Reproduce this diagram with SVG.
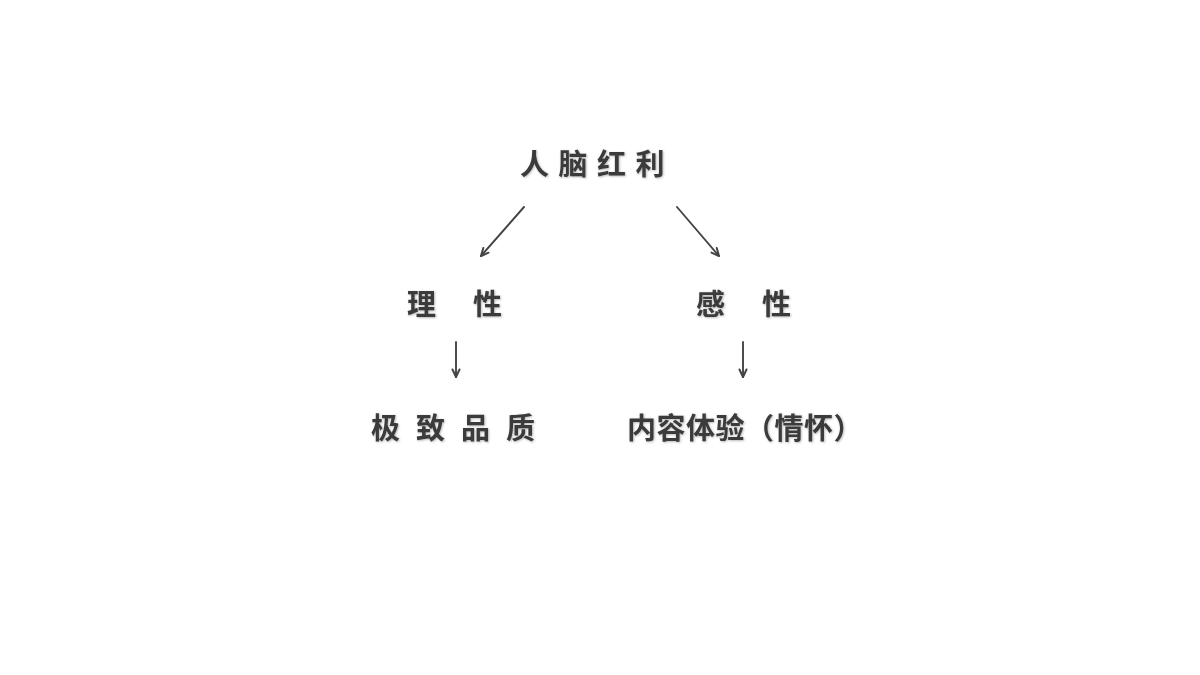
<svg xmlns="http://www.w3.org/2000/svg" width="1200" height="675" viewBox="0 0 1200 675">
  <defs>
    <style>
      .t { font-family: "Noto Sans CJK SC", "Noto Sans", sans-serif; font-weight: 700; fill: #3a3a3a; dominant-baseline: central; filter: url(#sh); }
      .c { stroke: #444; stroke-width: 1.9; fill: none; stroke-linecap: round; }
    </style>
    <filter id="sh" x="-10%" y="-20%" width="120%" height="140%">
      <feDropShadow dx="0.8" dy="0.8" stdDeviation="0.9" flood-color="#000" flood-opacity="0.3"/>
    </filter>
    <marker id="ah" viewBox="0 0 10 10" refX="9" refY="5" markerWidth="10" markerHeight="10" markerUnits="userSpaceOnUse" orient="auto">
      <path d="M1.5,1.5 L9,5 L1.5,8.5" fill="none" stroke="#444" stroke-width="2" stroke-linecap="round" stroke-linejoin="round"/>
    </marker>
  </defs>
  <rect width="1200" height="675" fill="#ffffff"/>

  <g id="node-root">
    <text class="t" x="520" y="162" font-size="29" letter-spacing="9.5">人脑红利</text>
  </g>
  <g id="node-rational">
    <text class="t" y="302" font-size="29"><tspan x="407">理</tspan><tspan x="473">性</tspan></text>
  </g>
  <g id="node-emotional">
    <text class="t" y="302" font-size="29"><tspan x="696">感</tspan><tspan x="762">性</tspan></text>
  </g>
  <g id="node-quality">
    <text class="t" x="371" y="426" font-size="29" letter-spacing="16">极致品质</text>
  </g>
  <g id="node-content">
    <text class="t" x="627" y="426" font-size="29" letter-spacing="0.5">内容体验（情怀）</text>
  </g>

  <g id="connectors">
    <line class="c" x1="524" y1="207" x2="481" y2="256" marker-end="url(#ah)"/>
    <line class="c" x1="677" y1="207" x2="719" y2="256" marker-end="url(#ah)"/>
    <line class="c" x1="456" y1="342" x2="456" y2="377" marker-end="url(#ah)"/>
    <line class="c" x1="743" y1="342" x2="743" y2="377" marker-end="url(#ah)"/>
  </g>
</svg>
